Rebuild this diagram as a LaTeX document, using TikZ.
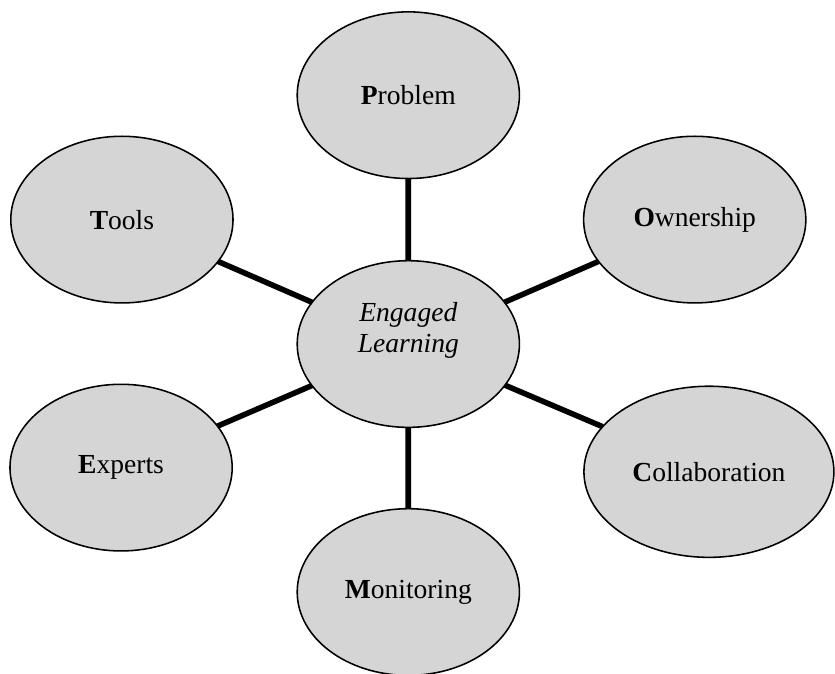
\documentclass[tikz,border=0pt]{standalone}
\usepackage{fontspec}
\setmainfont{Liberation Serif}
\usepackage{tkz-graph}
\usetikzlibrary{arrows}
\usetikzlibrary{shapes}

\definecolor{bubbleGray}{RGB}{213,213,213}

\begin{document}
\begin{tikzpicture}[scale = 13.206]
	\tikzstyle{VertexStyle} = []
	\tikzstyle{EdgeStyle} = [line width = 2.5pt]
	\tikzstyle{LabelStyle} = []
	\tikzstyle{bubbleStyle}=[shape = ellipse, minimum width = 100pt, minimum height = 75pt, inner sep = 1pt, draw, line width = 0.7pt, fill = bubbleGray, font = \fontsize{12.4}{14.2}\selectfont]
	\tikzstyle{wideStyle}=[bubbleStyle, minimum width = 112.5pt, minimum height = 77pt]
	\useasboundingbox (0,0) rectangle (1.000,0.807);
	\Vertex[style = bubbleStyle, x = 0.489, y = 0.395, L = {\raisebox{3pt}[0pt][0pt]{\itshape\begin{tabular}{@{}c@{}}Engaged\\Learning\end{tabular}}}]{v0}
	\Vertex[style = bubbleStyle, x = 0.489, y = 0.693, L = {\textbf{P}roblem}]{v1}
	\Vertex[style = bubbleStyle, x = 0.832, y = 0.544, L = {\textbf{O}wnership}]{v2}
	\Vertex[style = wideStyle, x = 0.849, y = 0.242, L = {\textbf{C}ollaboration}]{v3}
	\Vertex[style = bubbleStyle, x = 0.489, y = 0.098, L = {\textbf{M}onitoring}]{v4}
	\Vertex[style = bubbleStyle, x = 0.145, y = 0.247, L = {\textbf{E}xperts}]{v5}
	\Vertex[style = bubbleStyle, x = 0.146, y = 0.544, L = {\textbf{T}ools}]{v6}
	\Edge(v0)(v1)
	\Edge(v0)(v2)
	\Edge(v0)(v3)
	\Edge(v0)(v4)
	\Edge(v0)(v5)
	\Edge(v0)(v6)
	\end{tikzpicture}
\end{document}
